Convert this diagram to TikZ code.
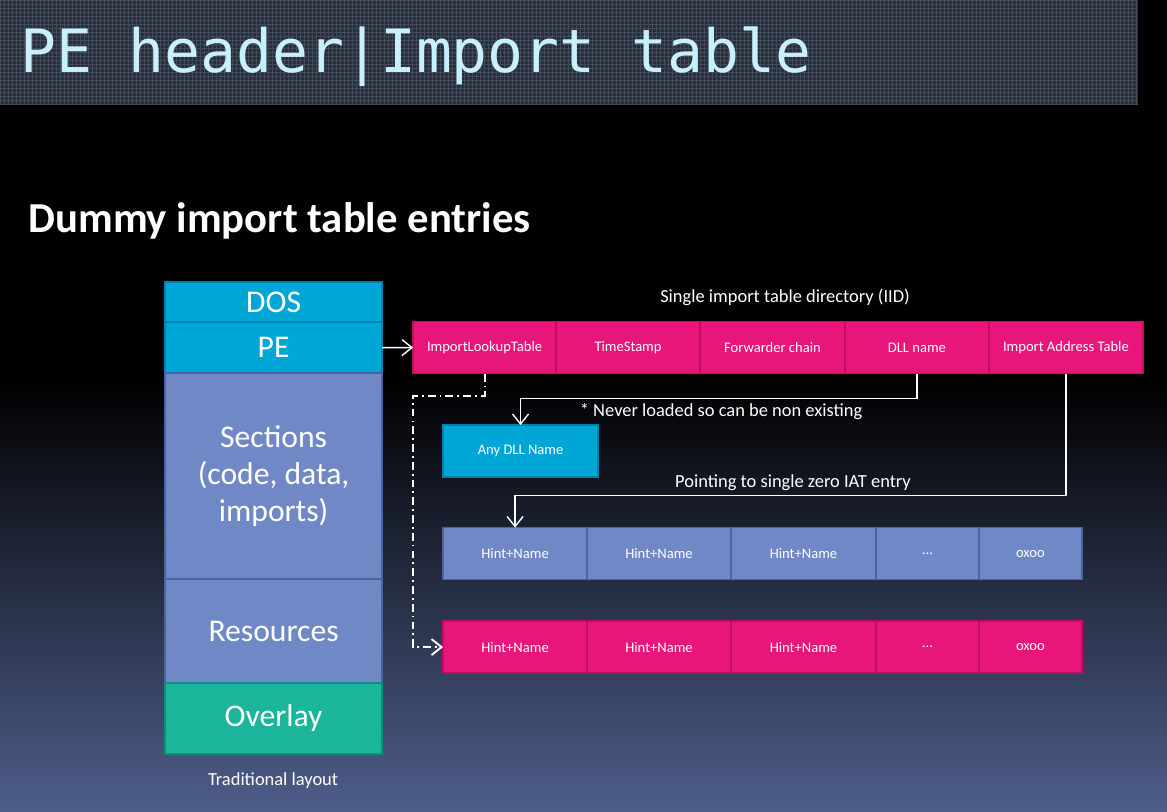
\documentclass[tikz,border=0pt]{standalone}
\usepackage{fontspec}
\setmainfont{Carlito}
\newfontfamily\titlefont{DejaVu Sans Mono}
\usetikzlibrary{positioning,chains,arrows.meta}
\definecolor{titlebg}{RGB}{40,47,60}
\definecolor{titlegrid}{RGB}{66,74,90}
\definecolor{titletext}{RGB}{200,240,252}
\definecolor{bgslate}{RGB}{78,94,138}
\definecolor{pecyan}{RGB}{0,166,214}
\definecolor{pecyanb}{RGB}{0,130,175}
\definecolor{slate}{RGB}{112,137,198}
\definecolor{slateb}{RGB}{75,100,160}
\definecolor{teal}{RGB}{26,181,154}
\definecolor{tealb}{RGB}{20,140,120}
\definecolor{pink}{RGB}{232,22,122}
\definecolor{pinkb}{RGB}{190,15,95}
\tikzset{
    layer/.style={
        draw, line width=1pt, rectangle, minimum width=4.34cm,
        inner sep=0pt, outer sep=0pt, text=white, align=center,
        font=\fontsize{18}{21.3}\selectfont
    },
    cell/.style={
        draw, line width=0.8pt, rectangle, minimum height=1.04cm,
        inner sep=0pt, outer sep=0pt, text=white, font=\fontsize{8.3}{10}\selectfont
    }
}
\begin{document}
\begin{tikzpicture}[
        x=0.02cm, y=-0.02cm,
        >={Straight Barb[length=2mm,width=3.2mm]},
        wire/.style={draw=white, line width=0.8pt},
        note/.style={text=white, font=\fontsize{10.5}{12}\selectfont}
      ]

    % background and title bar
    \fill[black] (0,0) rectangle (1167,811);
    \shade[top color=black, bottom color=bgslate] (0,380) rectangle (1167,811);
    \fill[titlebg] (0,0) rectangle (1138,105);
    \draw[titlegrid, line width=0.15pt, step=0.08cm] (0,0) grid (1138,105);
    \node[anchor=base west, inner sep=0pt, text=titletext,
          font=\titlefont\fontsize{34}{40}\selectfont] (title) at (20,72) {PE header|Import table};
    \node[anchor=base west, inner sep=0pt, text=white,
          font=\fontsize{24.3}{28}\selectfont\bfseries] (subtitle) at (28,232) {Dummy import table entries};

    % traditional layout
    \begin{scope}[start chain=col going below, node distance=0pt]
    \node[layer, on chain=col, fill=pecyan, draw=pecyanb, minimum height=0.8cm, anchor=north] (dos) at (273.5,282) {DOS};
    \node[layer, on chain=col, fill=pecyan, draw=pecyanb, minimum height=1.02cm] (pe) {PE};
    \node[layer, on chain=col, fill=slate, draw=slateb, minimum height=4.12cm] (sections) {Sections\\(code, data,\\imports)};
    \node[layer, on chain=col, fill=slate, draw=slateb, minimum height=2.08cm] (resources) {Resources};
    \node[layer, on chain=col, fill=teal, draw=tealb, minimum height=1.42cm] (overlay) {Overlay};
    \end{scope}
    \node[note] (layoutlbl) at (273,781) {Traditional layout};

    % import directory
    \begin{scope}[start chain=iid going right, node distance=0pt]
    \node[cell, on chain=iid, fill=pink, draw=pinkb, minimum width=2.86cm, anchor=west] (ilt) at (413,347.5) {ImportLookupTable};
    \node[cell, on chain=iid, fill=pink, draw=pinkb, minimum width=2.88cm] (ts) {TimeStamp};
    \node[cell, on chain=iid, fill=pink, draw=pinkb, minimum width=2.9cm] (fwd) {Forwarder chain};
    \node[cell, on chain=iid, fill=pink, draw=pinkb, minimum width=2.88cm] (dll) {DLL name};
    \node[cell, on chain=iid, fill=pink, draw=pinkb, minimum width=3.08cm] (iat) {Import Address Table};
    \end{scope}
    \node[note] (iidlbl) at (785,297) {Single import table directory (IID)};

    \node[cell, fill=pecyan, draw=pecyanb, minimum width=3.1cm, anchor=north west] (anydll) at (443,425) {Any DLL Name};

    % hint/name rows
    \begin{scope}[start chain=hints going right, node distance=0pt]
    \node[cell, on chain=hints, fill=slate, draw=slateb, minimum width=2.88cm, anchor=west] (hb1) at (443,553.5) {Hint+Name};
    \node[cell, on chain=hints, fill=slate, draw=slateb, minimum width=2.88cm] (hb2) {Hint+Name};
    \node[cell, on chain=hints, fill=slate, draw=slateb, minimum width=2.9cm] (hb3) {Hint+Name};
    \node[cell, on chain=hints, fill=slate, draw=slateb, minimum width=2.06cm] (hb4) {...};
    \node[cell, on chain=hints, fill=slate, draw=slateb, minimum width=2.06cm] (hb5) {oxoo};
    \end{scope}
    \begin{scope}[start chain=names going right, node distance=0pt]
    \node[cell, on chain=names, fill=pink, draw=pinkb, minimum width=2.88cm, anchor=west] (hm1) at (443,647) {Hint+Name};
    \node[cell, on chain=names, fill=pink, draw=pinkb, minimum width=2.88cm] (hm2) {Hint+Name};
    \node[cell, on chain=names, fill=pink, draw=pinkb, minimum width=2.9cm] (hm3) {Hint+Name};
    \node[cell, on chain=names, fill=pink, draw=pinkb, minimum width=2.06cm] (hm4) {...};
    \node[cell, on chain=names, fill=pink, draw=pinkb, minimum width=2.06cm] (hm5) {oxoo};
    \end{scope}

    % connectors
    \draw[wire, ->] (pe.east) -- (ilt.west);
    \draw[wire, ->] (dll.south) -- ++(0,25) -| (anydll.north);
    \node[note] (neverlbl) at (721,411) {* Never loaded so can be non existing};
    \draw[wire, ->] (iat.south) -- ++(0,122) -| (hb1.north);
    \node[note] (zerolbl) at (793,483) {Pointing to single zero IAT entry};
    \draw[wire, ->, line width=1.1pt, dash pattern=on 4.5pt off 2.3pt on 1pt off 2.3pt]
        (ilt.south) -- ++(0,22) -| (ilt.west |- hm1.west) -- (hm1.west);

\end{tikzpicture}
\end{document}
